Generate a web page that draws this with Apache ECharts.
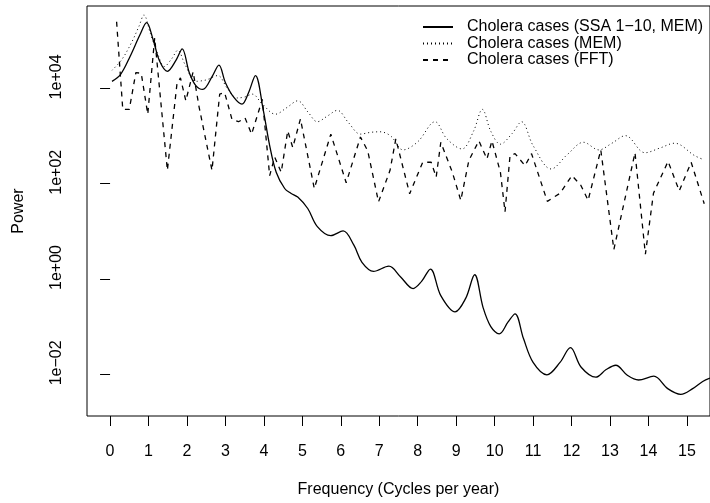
<!DOCTYPE html>
<html>
<head>
<meta charset="utf-8">
<script src="https://cdn.jsdelivr.net/npm/echarts@6/dist/echarts.min.js"></script>
<style>
  html, body { margin: 0; padding: 0; background: #fff; }
  #chart { width: 710px; height: 503px; }
</style>
</head>
<body>
<div id="chart"></div>
<script>
// Spectral power of the cholera series, three estimators.
const seriesNames = ['Cholera cases (SSA 1\u221210, MEM)', 'Cholera cases (MEM)', 'Cholera cases (FFT)'];

// SSA-reconstructed series (components 1-10), maximum entropy spectrum
const ssaFreq = [0.05, 0.27, 0.52, 0.78, 0.95, 1.12, 1.29, 1.49, 1.72, 1.875, 2.06, 2.23, 2.41, 2.66, 2.83, 3.0, 3.22, 3.43, 3.6, 3.78,
  3.98, 4.15, 4.32, 4.54, 4.7, 4.88, 5.14, 5.39, 5.74, 6.06, 6.34, 6.55, 6.85, 7.25, 7.55, 7.88, 8.1, 8.33, 8.6, 8.97,
  9.25, 9.48, 9.7, 9.9, 10.12, 10.35, 10.53, 10.75, 11.0, 11.36, 11.7, 11.97, 12.25, 12.63, 12.9, 13.15, 13.45, 13.74, 14.14, 14.5,
  14.84, 15.15, 15.41, 15.6];
const ssaPower = [1.41e4, 1.95e4, 4.68e4, 1.35e5, 2.40e5, 1.05e5, 3.72e4, 2.29e4, 3.98e4, 6.76e4, 2.14e4, 1.15e4, 9.55e3, 1.82e4, 3.09e4, 1.32e4, 6.46e3, 4.68e3, 8.13e3, 1.86e4,
  3.63e3, 631, 174, 79.4, 63.1, 52.5, 30.2, 12.6, 8.13, 10.2, 5.13, 2.24, 1.45, 1.86, 1.12, 0.631, 0.891, 1.62, 0.447, 0.204,
  0.398, 1.23, 0.251, 0.100, 0.0708, 0.126, 0.186, 0.0562, 0.0178, 0.00977, 0.0178, 0.0363, 0.0141, 0.00871, 0.0126, 0.0155, 0.00955, 0.00759, 0.00912, 0.00501,
  0.00380, 0.00501, 0.00708, 0.0083];

// Raw series, maximum entropy spectrum
const memFreq = [0.05, 0.3, 0.55, 0.75, 0.88, 1.05, 1.25, 1.41, 1.6, 1.76, 1.95, 2.23, 2.5, 2.8, 3.05, 3.3, 3.5, 3.7, 3.95, 4.3,
  4.6, 4.88, 5.15, 5.39, 5.65, 5.91, 6.2, 6.51, 6.78, 7.02, 7.3, 7.62, 8.0, 8.45, 8.75, 9.15, 9.45, 9.68, 9.9, 10.15,
  10.45, 10.7, 11.0, 11.47, 11.9, 12.31, 12.71, 13.05, 13.4, 13.91, 14.3, 14.68, 15.2, 15.45];
const memPower = [2.40e4, 3.98e4, 8.91e4, 2.0e5, 3.47e5, 1.41e5, 5.0e4, 2.88e4, 4.17e4, 6.31e4, 3.16e4, 1.41e4, 1.51e4, 1.86e4, 1.0e4, 6.31e3, 6.61e3, 7.59e3, 4.79e3, 2.88e3,
  3.98e3, 5.50e3, 3.16e3, 2.0e3, 2.63e3, 3.47e3, 1.91e3, 1.10e3, 1.20e3, 1.23e3, 1.0e3, 513, 759, 2.0e3, 891, 537, 1.26e3, 3.63e3, 1.26e3, 676,
  1.12e3, 2.0e3, 631, 204, 417, 741, 513, 708, 1.02e3, 447, 562, 708, 389, 316];

// Raw series, periodogram
const fftFreq = [0.17, 0.33, 0.5, 0.67, 0.81, 0.98, 1.16, 1.49, 1.74, 1.83, 1.97, 2.16, 2.31, 2.65, 2.85, 2.98, 3.17, 3.34, 3.51, 3.68,
  3.96, 4.15, 4.28, 4.45, 4.62, 4.75, 4.95, 5.31, 5.74, 6.14, 6.51, 6.7, 6.98, 7.28, 7.43, 7.79, 8.13, 8.35, 8.48, 8.6,
  8.9, 9.12, 9.33, 9.59, 9.8, 9.93, 10.15, 10.27, 10.4, 10.53, 10.79, 10.96, 11.37, 11.7, 12.01, 12.24, 12.43, 12.76, 13.1, 13.65,
  13.92, 14.13, 14.51, 14.8, 15.11, 15.45];
const fftPower = [2.51e5, 3.63e3, 3.63e3, 2.14e4, 2.09e4, 2.88e3, 1.15e5, 191, 1.26e4, 1.66e4, 5.50e3, 2.24e4, 4.27e3, 191, 7.59e3, 8.13e3, 2.24e3, 2.0e3, 2.40e3, 1.10e3,
  5.89e3, 148, 363, 174, 1.29e3, 575, 2.29e3, 79.4, 1.10e3, 105, 955, 490, 41.7, 191, 871, 61.7, 282, 282, 138, 741,
  174, 44.7, 309, 794, 331, 794, 174, 25.7, 389, 427, 240, 427, 42.7, 63.1, 148, 93.3, 44.7, 513, 4.17, 447,
  3.31, 63.1, 295, 70.8, 282, 38.0];

// Axis ticks and labels
const xTicks = [0, 1, 2, 3, 4, 5, 6, 7, 8, 9, 10, 11, 12, 13, 14, 15];
const yTicks = [0.01, 1, 100, 10000];
const yTickLabels = ['1e\u221202', '1e+00', '1e+02', '1e+04'];

const pairs = (xs, ys) => xs.map((x, i) => [x, ys[i]]);
const FONT = 'Liberation Sans, Arial, Helvetica, sans-serif';

const chart = echarts.init(document.getElementById('chart'), null, { renderer: 'canvas' });
chart.setOption({
  animation: false,
  backgroundColor: '#ffffff',
  textStyle: { fontFamily: FONT, color: '#000' },
  grid: {
    left: 87, top: 6, right: -7, bottom: 84,
    show: true, borderColor: '#000', borderWidth: 1, backgroundColor: 'transparent'
  },
  legend: {
    orient: 'vertical',
    left: 417, top: 14,
    itemWidth: 30, itemHeight: 10, itemGap: 0.5,
    selectedMode: false,
    itemStyle: { opacity: 0, borderWidth: 0 },
    textStyle: { fontSize: 16, color: '#000', fontFamily: FONT, lineHeight: 16, padding: [0, 0, 0, 9] },
    data: seriesNames
  },
  xAxis: {
    type: 'value',
    min: -0.6, max: 15.6,
    name: 'Frequency (Cycles per year)',
    nameLocation: 'middle', nameGap: 66,
    nameTextStyle: { fontSize: 16, color: '#000', fontFamily: FONT },
    axisLine: { show: false },
    splitLine: { show: false },
    axisTick: { show: true, inside: false, length: 10, customValues: xTicks, lineStyle: { color: '#000', width: 1 } },
    axisLabel: { customValues: xTicks, fontSize: 16, color: '#000', fontFamily: FONT, margin: 28 }
  },
  yAxis: {
    type: 'log', logBase: 10,
    min: 0.001334, max: 537000,
    name: 'Power',
    nameLocation: 'middle', nameGap: 60, nameRotate: 90,
    nameTextStyle: { fontSize: 16, color: '#000', fontFamily: FONT },
    axisLine: { show: false },
    splitLine: { show: false },
    axisTick: { show: true, inside: false, length: 10, customValues: yTicks, lineStyle: { color: '#000', width: 1 } },
    axisLabel: {
      customValues: yTicks, rotate: 90, align: 'center', verticalAlign: 'bottom',
      padding: [0, 0, 0, 23],
      fontSize: 16, color: '#000', fontFamily: FONT, margin: 22,
      formatter: v => {
        const i = yTicks.findIndex(t => Math.abs(Math.log10(t) - Math.log10(v)) < 1e-6);
        return i >= 0 ? yTickLabels[i] : '';
      }
    }
  },
  series: [
    {
      name: seriesNames[0], type: 'line', data: pairs(ssaFreq, ssaPower),
      smooth: 0.35, showSymbol: false, symbol: 'none',
      lineStyle: { color: '#000', width: 1.3, type: 'solid' }, itemStyle: { color: '#000' }
    },
    {
      name: seriesNames[1], type: 'line', data: pairs(memFreq, memPower),
      smooth: 0.35, showSymbol: false, symbol: 'none',
      lineStyle: { color: '#000', width: 1, type: [1, 3] }, itemStyle: { color: '#000' }
    },
    {
      name: seriesNames[2], type: 'line', data: pairs(fftFreq, fftPower),
      showSymbol: false, symbol: 'none',
      lineStyle: { color: '#000', width: 1.3, type: [5, 5] }, itemStyle: { color: '#000' }
    }
  ]
});
</script>
</body>
</html>
